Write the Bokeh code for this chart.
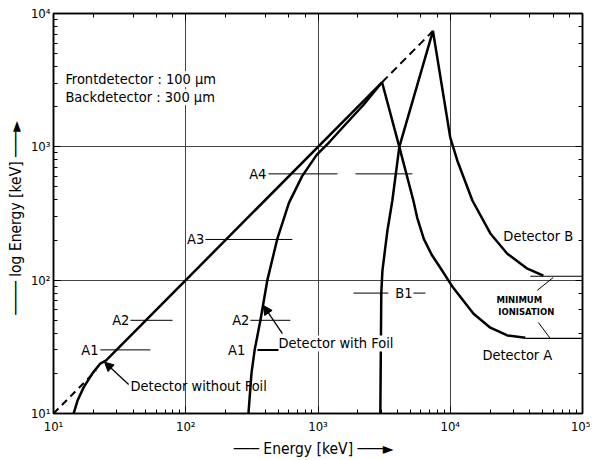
from bokeh.plotting import figure
from bokeh.models import Label, Arrow, NormalHead, LogAxis
from bokeh.embed import file_html
from bokeh.resources import INLINE

FONT = "DejaVu Sans Condensed"

# ---------------- data (keV) ----------------
x_ticks = [10, 100, 1000, 10000, 100000]
x_tick_labels = ["10¹", "10²", "10³", "10⁴", "10⁵"]
y_ticks = [10, 100, 1000, 10000]
y_tick_labels = ["10¹", "10²", "10³", "10⁴"]

# E_det = E diagonal (dashed parts)
diag_low_x = [10, 21]
diag_low_y = [10, 21]
diag_high_x = [3050, 7400]
diag_high_y = [3050, 7400]

# detector without foil (front detector A, stopping)
nofoil_x = [14.2, 15.2, 16.9, 19.7, 22.6, 25, 3050]
nofoil_y = [10, 12.5, 15.7, 20, 23.7, 25, 3050]

# detector with foil
foil_x = [298, 314, 332, 367, 414, 493, 603, 759, 977, 1230, 1585, 2188, 3050]
foil_y = [10, 20, 30, 50, 100, 205, 380, 603, 871, 1096, 1445, 2042, 3050]

# detector A, penetrating branch
detA_x = [3050, 4120, 5260, 5620, 6310, 7240, 8410, 10500, 15000, 20100, 27000, 37000]
detA_y = [3050, 1000, 396, 295, 204, 155, 124, 88, 56, 44, 38.5, 37]

# detector B, rising and falling branches
detB_x = [2960, 3010, 3070, 3350, 3650, 4120, 7400, 10000, 11300, 14700, 20100, 27000, 38300, 50600]
detB_y = [10, 80, 118, 236, 396, 1000, 7400, 1175, 790, 396, 224, 158, 122, 108]

# minimum ionisation levels
minA_x = [37000, 100000]
minA_y = [36.6, 36.6]
minB_x = [40300, 100000]
minB_y = [107, 107]

# threshold marks: level keV, x start, x end
thr_level = [30, 50, 202, 627, 627, 50, 30, 80, 80]
thr_x0 = [22.6, 38.2, 141, 422, 1919, 308, 348, 1854, 5260]
thr_x1 = [54, 79.4, 640, 1402, 5170, 618, 618, 3405, 6490]
thr_width = [1, 1, 1, 1, 1, 1, 2, 1, 1]

# threshold label positions
lab_text = ["A1", "A2", "A3", "A4", "A2", "A1"]
lab_x = [21.9, 37.5, 138, 407, 303, 282]
lab_y = [30, 50, 202, 627, 50, 30]

p = figure(x_axis_type="log", y_axis_type="log",
           x_range=(10, 1e5), y_range=(10, 1e4),
           frame_width=529, frame_height=400,
           min_border_left=53, min_border_right=8,
           min_border_top=13, min_border_bottom=39,
           output_backend="svg", toolbar_location=None)

p.background_fill_color = "white"
p.border_fill_color = "white"
p.outline_line_color = "black"
p.outline_line_width = 1.5

p.grid.grid_line_color = "#444444"
p.grid.grid_line_width = 1

for ax in (p.xaxis[0], p.yaxis[0]):
    ax.axis_line_color = "black"
    ax.axis_line_width = 1.5
    ax.major_tick_in = 7
    ax.major_tick_out = 0
    ax.minor_tick_in = 4
    ax.minor_tick_out = 0
    ax.major_tick_line_color = "black"
    ax.minor_tick_line_color = "black"
    ax.major_label_text_font = FONT
    ax.major_label_text_font_size = "13px"
    ax.major_label_text_color = "black"
    ax.axis_label_text_font = FONT
    ax.axis_label_text_font_size = "15.5px"
    ax.axis_label_text_font_style = "normal"
    ax.axis_label_text_color = "black"

p.xaxis[0].major_label_overrides = {float(k): v for k, v in zip(x_ticks, x_tick_labels)}
p.yaxis[0].major_label_overrides = {float(k): v for k, v in zip(y_ticks, y_tick_labels)}
p.xaxis[0].major_label_standoff = 5
p.yaxis[0].major_label_standoff = 3
p.xaxis[0].axis_label_standoff = 3
p.yaxis[0].axis_label_standoff = 3
p.xaxis[0].axis_label = "───  Energy [keV]  ───►"
p.yaxis[0].axis_label = "────  log Energy [keV]  ───►"

for loc in ("above", "right"):
    ax = LogAxis(major_label_text_font_size="1px", major_label_text_alpha=0,
                 major_label_standoff=0,
                 axis_line_color="black", axis_line_width=1.5,
                 major_tick_in=7, major_tick_out=0,
                 minor_tick_in=4, minor_tick_out=0)
    p.add_layout(ax, loc)

# curves
p.line(diag_low_x, diag_low_y, line_color="black", line_width=2, line_dash="7 5")
p.line(diag_high_x, diag_high_y, line_color="black", line_width=2, line_dash="8 5")
p.line(nofoil_x, nofoil_y, line_color="black", line_width=2.5)
p.line(foil_x, foil_y, line_color="black", line_width=2.5)
p.line(detA_x, detA_y, line_color="black", line_width=2.5)
p.line(detB_x, detB_y, line_color="black", line_width=2.5)
p.line(minA_x, minA_y, line_color="black", line_width=1.2)
p.line(minB_x, minB_y, line_color="black", line_width=1.2)

# threshold marks
p.segment(x0=thr_x0, y0=thr_level, x1=thr_x1, y1=thr_level,
          line_color="black", line_width=thr_width)

def lab(x, y, text, align="left", size="14.5px", style="normal", bg=None, font=FONT):
    l = Label(x=x, y=y, text=text, text_font=font, text_font_size=size,
              text_font_style=style, text_align=align, text_baseline="middle",
              text_color="black")
    if bg:
        l.background_fill_color = bg
    p.add_layout(l)

for t, x, y in zip(lab_text, lab_x, lab_y):
    lab(x, y, t, align="right")
lab(3846, 80, "B1")

lab(12.3, 3206, "Frontdetector : 100 µm", bg="white")
lab(12.3, 2350, "Backdetector : 300 µm", bg="white")
lab(38.2, 16.2, "Detector without Foil")
lab(502, 33.5, "Detector with Foil", bg="white")
lab(25200, 216, "Detector B")
lab(17500, 27.7, "Detector A")
lab(33300, 70.5, "MINIMUM", align="center", size="8.5px", style="bold", font="DejaVu Sans")
lab(37600, 58.2, "IONISATION", align="center", size="8.5px", style="bold", font="DejaVu Sans")

# leader lines for minimum ionisation
p.segment(x0=[45500, 46300], y0=[83.8, 48.2], x1=[60100, 57100], y1=[104.8, 36.5],
          line_color="black", line_width=1)

# arrows pointing at curves
for xs, ys, xe, ye in [(37, 16.5, 24.3, 24.3), (538, 39.8, 386, 64.6)]:
    p.add_layout(Arrow(end=NormalHead(size=9, fill_color="black", line_color="black"),
                       x_start=xs, y_start=ys, x_end=xe, y_end=ye,
                       line_color="black", line_width=1.3))

open("out.html", "w").write(file_html(p, INLINE))
